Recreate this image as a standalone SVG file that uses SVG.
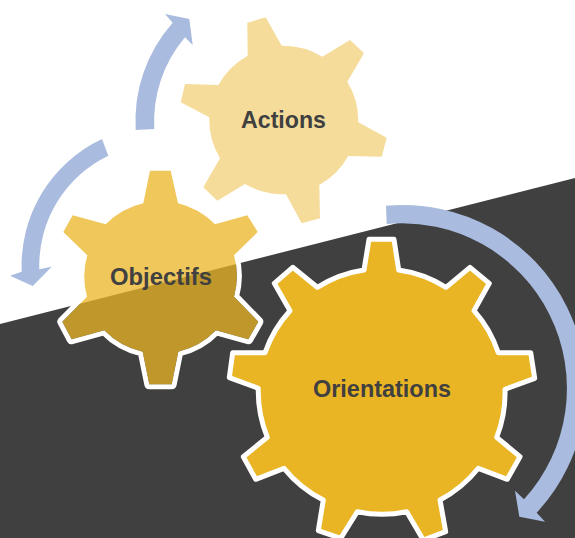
<svg xmlns="http://www.w3.org/2000/svg" width="575" height="538" viewBox="0 0 575 538">
<style>
.bg{fill:#404040}
.arrow{fill:#A9BBDE}
.halo{fill:none;stroke:#fff;stroke-width:10;stroke-linejoin:round}
.label{font-family:"Liberation Sans",Arial,sans-serif;font-weight:700;font-size:24px;fill:#404040;text-anchor:middle}
</style>
<defs>
<path id="objectifs-shape" d="M150,170.7 L170.7,170.7 L178,203.3 A76.5,76.5 0 0 1 215,224.3 L247.3,215.3 L257.7,232 L234,255.3 A76.5,76.5 0 0 1 234,296.7 L258.3,321.7 L248.3,339.3 L216,330.3 A76.5,76.5 0 0 1 178.3,351.7 L171.7,384.3 L149.3,384.3 L142.7,351.7 A76.5,76.5 0 0 1 104.3,330.3 L71.7,339.3 L62.3,321.7 L87,296.7 A76.5,76.5 0 0 1 87.3,255.3 L63.3,232 L72.7,215.3 L105.7,224.3 A76.5,76.5 0 0 1 143.3,203.3 Z"/>
<mask id="objectifs-outside" maskUnits="userSpaceOnUse" x="0" y="0" width="575" height="538">
<rect width="575" height="538" fill="#fff"/>
<use href="#objectifs-shape" fill="#000"/>
</mask>
</defs>
<rect width="575" height="538" fill="#fff"/>
<polygon class="bg" points="0,324 575,178 575,538 0,538"/>
<g id="connectors">
<path class="arrow" d="M135.7,130 A148,148 0 0 1 172.7,22.7 L165,14 L189.3,19 L192.7,45 L185,37.3 A130,130 0 0 0 154.3,129 Z"/>
<path class="arrow" d="M102,139 A140,140 0 0 0 21.7,271.7 L10,275.7 L32.7,286 L51.7,266.7 L39.3,269.3 A122,122 0 0 1 108.3,155.7 Z"/>
<path class="arrow" d="M386,205.7 A183,183 0 0 1 536.7,512.7 L545,521.7 L519.3,516.7 L515,490.7 L524,499.3 A165,165 0 0 0 386.7,224 Z"/>
</g>
<g id="actions">
<path fill="#F5DC9A" d="M247.3,22.7 L265.7,17.3 L281.7,45.7 A75,75 0 0 1 322.3,56.7 L350,40 L364,53.3 L347.3,81.7 A75,75 0 0 1 358.3,122.3 L386.7,137.7 L381.7,156.7 L348.3,156 A75,75 0 0 1 319.3,185 L320,218.3 L301.7,223.3 L286,194.3 A75,75 0 0 1 245,184 L217.3,200.7 L203.3,187.3 L220,158.3 A75,75 0 0 1 209.3,117.3 L180.7,102.3 L185,84 L218.3,85 A75,75 0 0 1 247.7,55.7 Z"/>
<text class="label" x="283.5" y="128" textLength="85" lengthAdjust="spacingAndGlyphs">Actions</text>
</g>
<g id="objectifs">
<use href="#objectifs-shape" class="halo" mask="url(#objectifs-outside)"/>
<use href="#objectifs-shape" fill="#E9B424" fill-opacity=".75"/>
<text class="label" x="161" y="284.5" textLength="102" lengthAdjust="spacingAndGlyphs">Objectifs</text>
</g>
<g id="orientations">
<path fill="#E9B524" stroke="#fff" stroke-width="5" stroke-linejoin="round" d="M369,239.3 L394,239.3 L398.7,270 A121,121 0 0 1 446,287.3 L470,267.3 L489.3,283.3 L474,310.7 A121,121 0 0 1 498.3,352.7 L530.7,352.7 L534.7,378.3 L505,389.3 A121,121 0 0 1 496.7,437.3 L520,456.7 L507.3,479.3 L478.3,468.3 A121,121 0 0 1 440,500 L445.7,531.7 L423.3,540 L406.7,511.7 A121,121 0 0 1 357.3,511.7 L340.7,538.3 L318.3,530.7 L323.3,500 A121,121 0 0 1 284,468.3 L255.7,479.3 L243.3,456.7 L267.3,437.3 A121,121 0 0 1 258.3,388.3 L229.3,377.7 L232.7,352.7 L265,352.7 A121,121 0 0 1 290,310.7 L274.3,283.3 L292.7,267.3 L317.3,287.3 A121,121 0 0 1 364,270 Z"/>
<text class="label" x="382" y="396.7" textLength="138" lengthAdjust="spacingAndGlyphs">Orientations</text>
</g>
</svg>
